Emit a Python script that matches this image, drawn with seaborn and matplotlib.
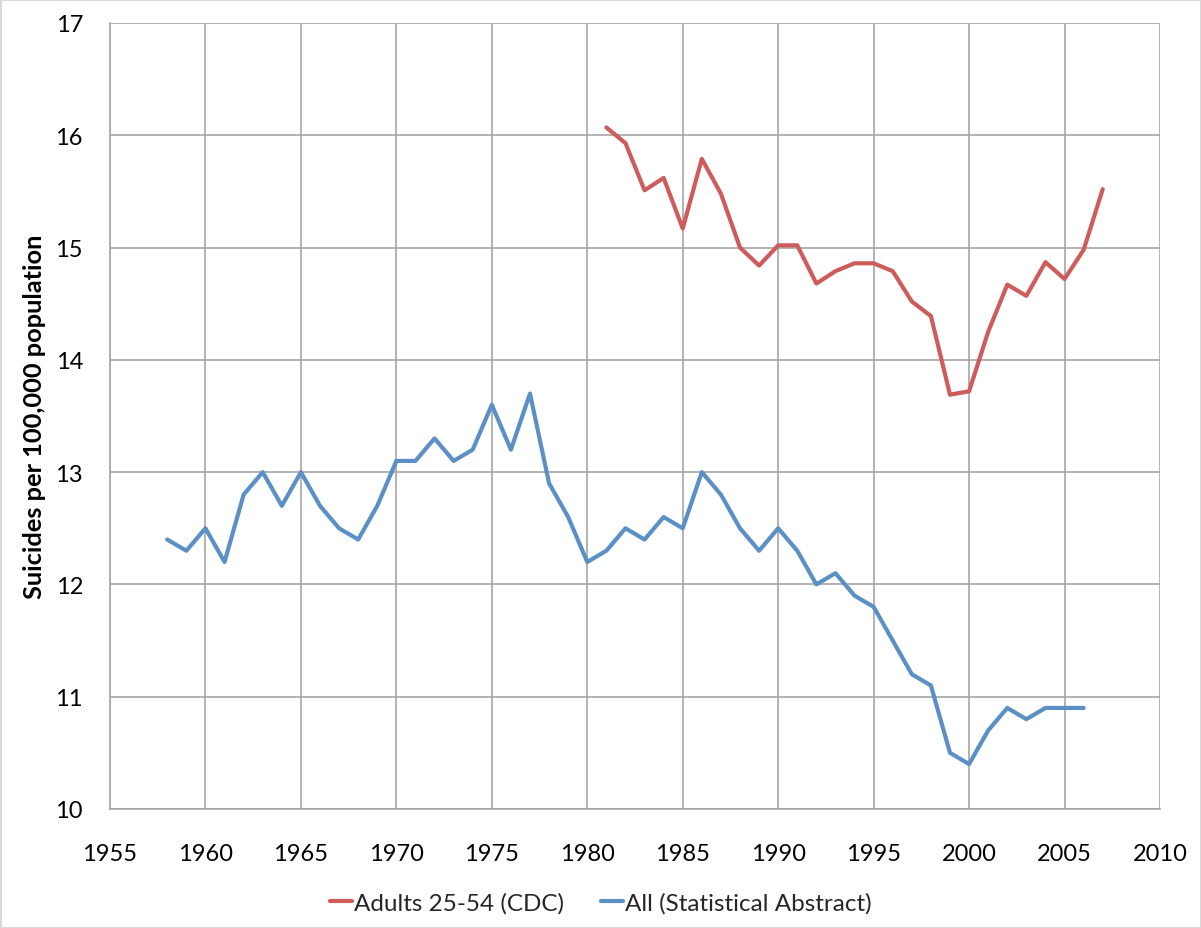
import pandas as pd
import numpy as np
import matplotlib.pyplot as plt
import seaborn as sns

# --- DATA ---
cdc_years = list(range(1981, 2008))
cdc_rate = [16.07, 15.93, 15.51, 15.62, 15.17, 15.79, 15.48, 15.00, 14.84, 15.02,
            15.02, 14.68, 14.79, 14.86, 14.86, 14.79, 14.52, 14.39, 13.69, 13.72,
            14.25, 14.67, 14.57, 14.87, 14.72, 14.98, 15.52]

all_years = list(range(1958, 2007))
all_rate = [12.4, 12.3, 12.5, 12.2, 12.8, 13.0, 12.7, 13.0, 12.7, 12.5,
            12.4, 12.7, 13.1, 13.1, 13.3, 13.1, 13.2, 13.6, 13.2, 13.7,
            12.9, 12.6, 12.2, 12.3, 12.5, 12.4, 12.6, 12.5, 13.0, 12.8,
            12.5, 12.3, 12.5, 12.3, 12.0, 12.1, 11.9, 11.8, 11.5, 11.2,
            11.1, 10.5, 10.4, 10.7, 10.9, 10.8, 10.9, 10.9, 10.9]

series_names = ['Adults 25-54 (CDC)', 'All (Statistical Abstract)']
series_colors = ['#CD5C5A', '#5B90C6']
x_ticks = list(range(1955, 2011, 5))
y_ticks = list(range(10, 18))

df = pd.concat([
    pd.DataFrame({'Year': cdc_years, 'Rate': cdc_rate, 'Series': series_names[0]}),
    pd.DataFrame({'Year': all_years, 'Rate': all_rate, 'Series': series_names[1]}),
])

# --- PLOT ---
sns.set_style('white')
plt.rcParams['font.family'] = ['Lato', 'DejaVu Sans']

fig = plt.figure(figsize=(12.01, 9.29), dpi=100)
# faint chart-area border
fig.patch.set_edgecolor('#d9d9d9')
fig.patch.set_linewidth(2)
ax = fig.add_axes([110 / 1201, 1 - 810 / 929, 1050 / 1201, 786 / 929])

sns.lineplot(data=df, x='Year', y='Rate', hue='Series', hue_order=series_names,
             palette=series_colors, linewidth=3, ax=ax, legend=True)

ax.set_xlim(1955, 2010)
ax.set_ylim(10, 17)
ax.set_xticks(x_ticks)
ax.set_yticks(y_ticks)
ax.grid(True, color='#a6a6a6', linewidth=1.2)
ax.set_axisbelow(True)
for side in ['top', 'right']:
    ax.spines[side].set_visible(False)
for side in ['left', 'bottom']:
    ax.spines[side].set_color('#a6a6a6')
    ax.spines[side].set_linewidth(1.2)
ax.tick_params(axis='both', length=6.5, width=1.2, color='#a6a6a6',
               labelsize=17, labelcolor='black')
ax.tick_params(axis='x', pad=18)
ax.tick_params(axis='y', pad=13)

ax.set_xlabel('')
ax.set_ylabel('Suicides per 100,000 population', fontsize=18.3, fontweight='bold',
              labelpad=6.5, color='black')

# legend is centred on the whole figure, like the Excel chart area
handles, labels = ax.get_legend_handles_labels()
ax.legend(handles, labels, loc='center', bbox_to_anchor=(601 / 1201, 1 - 904 / 929),
          bbox_transform=fig.transFigure,
          ncol=2, frameon=False, fontsize=17.5, handlelength=0.9,
          handletextpad=0.1, columnspacing=1.5)

plt.savefig('out.png', dpi=100)
